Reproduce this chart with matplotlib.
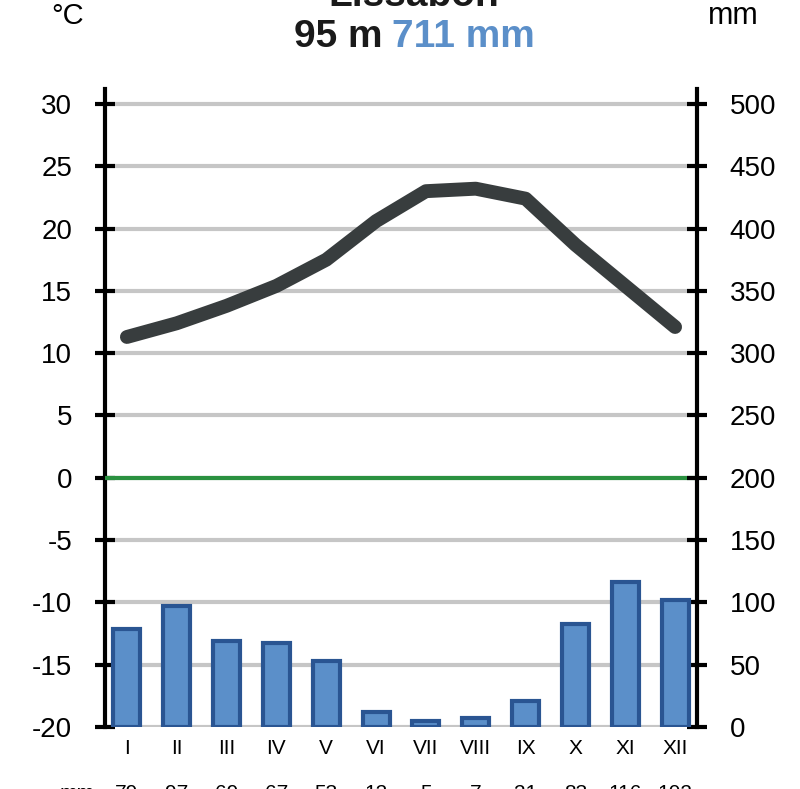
import numpy as np
import matplotlib
matplotlib.use("Agg")
import matplotlib.pyplot as plt
import matplotlib.transforms as mtransforms

plt.rcParams["font.family"] = ["Liberation Sans", "DejaVu Sans"]

# Klimadaten Lissabon
station = "Lissabon"
height_txt = "95 m"
total_txt = "711 mm"
months = ["I", "II", "III", "IV", "V", "VI", "VII", "VIII", "IX", "X", "XI", "XII"]
temp = [11.3, 12.4, 13.8, 15.4, 17.5, 20.6, 23.0, 23.2, 22.4, 18.7, 15.4, 12.1]
precip = [79, 97, 69, 67, 53, 12, 5, 7, 21, 83, 116, 102]

temp_ticks = list(range(-20, 31, 5))
precip_ticks = list(range(0, 501, 50))

x = np.arange(1, 13)

fig = plt.figure(figsize=(8, 7.89), dpi=100)
ax = fig.add_axes([0.13125, 0.0786, 0.74, 0.8086])
ax2 = ax.twinx()

# temperature axis
ax.set_xlim(0.56, 12.44)
ax.set_ylim(-20, 31.2)
ax.set_yticks(temp_ticks)
ax.set_yticklabels([str(t) for t in temp_ticks])
ax.yaxis.grid(True, color="#c6c6c6", lw=3)
ax.set_axisbelow(True)
ax.axhline(0, color="#2a9140", lw=3, zorder=3)
ax.plot(x, temp, color="#383d3e", lw=10, solid_capstyle="round", zorder=4)

ax.set_xticks(x)
ax.set_xticklabels(months, fontsize=15)
ax.tick_params(axis="x", length=0, pad=9)
ax.tick_params(axis="y", direction="inout", length=15, width=3, labelsize=20, pad=16)

# precipitation axis
ax2.set_ylim(0, 512)
ax2.set_yticks(precip_ticks)
ax2.bar(x, precip, width=0.54, color="#5b8fc9", edgecolor="#2a5592", linewidth=3, zorder=3)
ax2.tick_params(axis="y", direction="inout", length=15, width=3, labelsize=20, pad=16)

for a in (ax, ax2):
    a.spines["top"].set_visible(False)
    a.spines["bottom"].set_visible(False)
ax.spines["right"].set_visible(False)
ax2.spines["left"].set_visible(False)
ax.spines["left"].set_linewidth(3)
ax2.spines["right"].set_linewidth(3)

# headings
fig.text(414 / 800, 1 - 6 / 789, station, ha="center", va="baseline",
         fontsize=28, fontweight="bold", color="#1a1a1a")
fig.text(382 / 800, 1 - 37 / 789, height_txt, ha="right", va="center",
         fontsize=28, fontweight="bold", color="#1a1a1a")
fig.text(392 / 800, 1 - 37 / 789, total_txt, ha="left", va="center",
         fontsize=28, fontweight="bold", color="#5b8fc9")
fig.text(68 / 800, 1 - 16 / 789, "°C", ha="center", va="center", fontsize=21)
fig.text(733 / 800, 1 - 16 / 789, "mm", ha="center", va="center", fontsize=22)

# monthly precipitation row (mostly cut off at the bottom)
trans = mtransforms.blended_transform_factory(ax.transData, ax.transAxes)
row_y = (727 - 784) / 638
ax.text(0.0, row_y, "mm", transform=trans, ha="center", va="top", fontsize=15, clip_on=False)
for xi, p in zip(x, precip):
    ax.text(xi, row_y, str(p), transform=trans, ha="center", va="top", fontsize=15, clip_on=False)

fig.savefig("out.png", dpi=100)
